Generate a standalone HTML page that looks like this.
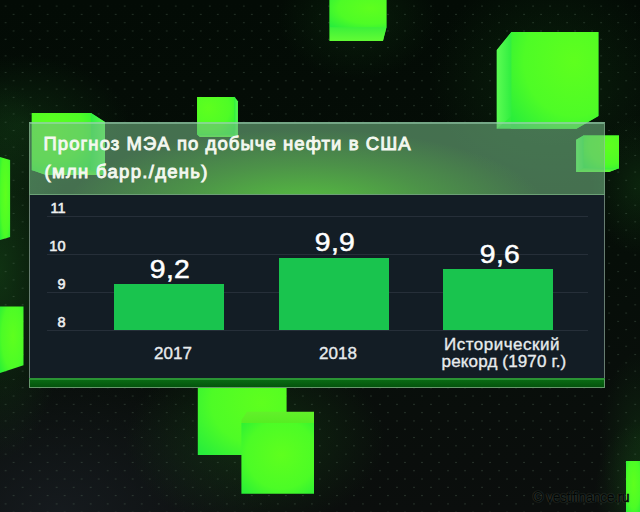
<!DOCTYPE html>
<html><head><meta charset="utf-8">
<style>
*{margin:0;padding:0;box-sizing:border-box}
html,body{width:640px;height:512px;overflow:hidden;background:#060b08}
body{position:relative;font-family:"Liberation Sans",sans-serif}
#bg{position:absolute;left:0;top:0;width:640px;height:512px;
background:
radial-gradient(ellipse 70px 190px at 0px 270px, rgba(25,85,28,0.5), rgba(0,0,0,0) 100%),
radial-gradient(ellipse 110px 70px at 20px 125px, rgba(20,70,25,0.4), rgba(0,0,0,0) 100%),
radial-gradient(ellipse 45px 70px at 640px 490px, rgba(30,110,30,0.28), rgba(0,0,0,0) 100%),
radial-gradient(ellipse 50px 70px at 640px 185px, rgba(20,70,22,0.4), rgba(0,0,0,0) 100%),
radial-gradient(ellipse 40px 90px at 640px 440px, rgba(20,70,22,0.35), rgba(0,0,0,0) 100%),
radial-gradient(ellipse 120px 110px at 550px 80px, rgba(20,70,22,0.35), rgba(0,0,0,0) 100%),
radial-gradient(ellipse 130px 90px at 255px 440px, rgba(25,85,25,0.4), rgba(0,0,0,0) 100%),
radial-gradient(ellipse 80px 60px at 358px 20px, rgba(20,70,22,0.3), rgba(0,0,0,0) 100%),
radial-gradient(ellipse 210px 140px at 60px 512px, rgba(22,27,31,0.95), rgba(0,0,0,0) 100%),
linear-gradient(#030b05 0%,#060e08 50%,#0b0e0d 100%);
}
#dots{position:absolute;left:0;top:0;width:640px;height:512px;
background-image:
radial-gradient(circle at 50% 50%, rgba(105,130,110,0.3) 0.7px, rgba(0,0,0,0) 1.1px),
radial-gradient(circle at 50% 50%, rgba(105,130,110,0.3) 0.7px, rgba(0,0,0,0) 1.1px);
background-size:17.03px 16.6px,17.03px 16.6px;
background-position:-2.9px -2.2px, 5.1px 6.1px;
clip-path:polygon(evenodd,0 0,640px 0,640px 512px,0 512px,0 0,29px 122px,604px 122px,604px 388px,29px 388px,29px 122px);
}
svg.cubes{position:absolute;left:0;top:0;width:640px;height:512px}
#header{position:absolute;left:29px;top:121.5px;width:575.5px;height:73.5px;
background:
radial-gradient(ellipse 240px 80px at 275px 85px, rgba(90,210,60,0.85), rgba(90,210,60,0.35) 55%, rgba(90,210,60,0) 100%),
rgba(116,184,132,0.58);
background-repeat:no-repeat;border:1px solid rgba(170,205,180,0.4);border-top:2px solid rgba(165,220,190,0.5);border-bottom:1.5px solid rgba(140,200,150,0.55)}
#chart{position:absolute;left:29px;top:195px;width:575.5px;height:183px;background:#131d25;
border-left:1px solid rgba(160,190,165,0.6);border-right:1px solid rgba(160,190,165,0.6)}
#strip{position:absolute;left:29px;top:377.5px;width:575.5px;height:10.5px;background:linear-gradient(#0a6a14,#03540c) no-repeat;background-color:#03540c;
border:1.5px solid rgba(120,165,125,0.85);border-top:2.5px solid #2a9434}
.t{position:absolute;color:#f2f6f0;white-space:nowrap;line-height:1}
.title{font-size:18.5px;letter-spacing:1.06px;color:#f4f8f0;-webkit-text-stroke:0.9px #f4f8f0}
.gl{position:absolute;left:46.5px;width:541.5px;height:1px;background:#262f39}
.yl{position:absolute;font-size:14.5px;color:#eef0f0;-webkit-text-stroke:0.55px #eef0f0;width:40px;text-align:right;left:25.5px;line-height:1}
.bar{position:absolute;background:#19c44e}
.val{position:absolute;font-size:26px;letter-spacing:0.3px;transform:scaleX(1.09);color:#fff;text-align:center;width:120px;line-height:1;-webkit-text-stroke:0.5px #fff}
.lab{position:absolute;font-size:17px;color:#e8ecee;text-align:center;width:160px;line-height:1;-webkit-text-stroke:0.35px #e8ecee}
</style></head><body>
<div id="bg"></div>
<div id="dots"></div>
<svg class="cubes" viewBox="0 0 640 512">
<defs>
<radialGradient id="fUR" cx="0.72" cy="0.3" r="0.95"><stop offset="0" stop-color="#5eff1e"/><stop offset="0.6" stop-color="#4efc26"/><stop offset="1" stop-color="#28ed3c"/></radialGradient>
<radialGradient id="fUL" cx="0.3" cy="0.3" r="0.95"><stop offset="0" stop-color="#5eff1e"/><stop offset="0.6" stop-color="#4efc26"/><stop offset="1" stop-color="#28ed3c"/></radialGradient>
<radialGradient id="fDR" cx="0.7" cy="0.7" r="0.95"><stop offset="0" stop-color="#5eff1e"/><stop offset="0.6" stop-color="#4efc26"/><stop offset="1" stop-color="#28ed3c"/></radialGradient>
<radialGradient id="fC" cx="0.55" cy="0.45" r="0.8"><stop offset="0" stop-color="#5eff1e"/><stop offset="0.6" stop-color="#4cfc26"/><stop offset="1" stop-color="#22ec3a"/></radialGradient>
<linearGradient id="sL" x1="0" y1="0" x2="1" y2="0"><stop offset="0" stop-color="#5cfc52"/><stop offset="1" stop-color="#30ee40"/></linearGradient>
<linearGradient id="sR" x1="1" y1="0" x2="0" y2="0"><stop offset="0" stop-color="#5cfc52"/><stop offset="1" stop-color="#30ee40"/></linearGradient>
<linearGradient id="sB" x1="0" y1="1" x2="0" y2="0"><stop offset="0" stop-color="#62fc34"/><stop offset="1" stop-color="#3cf03a"/></linearGradient>
<linearGradient id="sT" x1="0" y1="0" x2="0" y2="1"><stop offset="0" stop-color="#62f02a"/><stop offset="1" stop-color="#56ee22"/></linearGradient>
</defs>
<polygon points="329.6,0.0 386.4,0.0 386.4,27.4 382.9,41.1 329.6,41.1" fill="#3ef03a"/>
<polygon points="329.6,0.0 386.4,0.0 386.4,27.6 329.6,27.6" fill="url(#fUR)"/>
<polygon points="329.6,27.4 386.4,27.4 382.9,41.1 329.6,41.1" fill="url(#sB)"/>
<polygon points="511.4,32.0 598.4,32.0 598.4,116.0 576.5,128.8 496.8,128.8 496.8,50.0" fill="#30ee3c"/>
<polygon points="511.0,32.0 598.4,32.0 598.4,116.0 576.5,128.8 511.0,128.8" fill="url(#fUR)"/>
<polygon points="496.8,50.0 511.4,32.0 511.4,116.0 496.8,128.8" fill="url(#sL)"/>
<polygon points="583.5,135.4 619.0,135.4 619.0,168.2 609.0,172.0 576.2,172.0 576.2,139.8" fill="#30ee3c"/>
<polygon points="583.2,135.4 619.0,135.4 619.0,168.4 583.2,168.4" fill="url(#fUR)"/>
<polygon points="576.2,139.8 583.5,135.4 583.5,168.2 576.2,172.0" fill="url(#sL)"/>
<polygon points="583.5,168.2 619.0,168.2 609.0,172.0 576.2,172.0" fill="url(#sB)"/>
<polygon points="197.1,96.9 234.4,96.9 237.8,101.2 237.8,136.9 200.0,136.9 197.1,134.4" fill="#30ee3c"/>
<polygon points="197.1,96.9 234.7,96.9 234.7,134.6 197.1,134.6" fill="url(#fUL)"/>
<polygon points="234.4,96.9 237.8,101.2 237.8,136.9 234.4,134.4" fill="url(#sR)"/>
<polygon points="197.1,134.4 234.4,134.4 237.8,136.9 200.0,136.9" fill="url(#sB)"/>
<polygon points="31.8,113.1 91.0,113.1 105.0,122.0 105.0,175.0 46.0,175.0 31.8,170.0" fill="#30ee3c"/>
<polygon points="31.8,113.1 91.0,113.1 91.0,170.3 31.8,170.3" fill="url(#fUL)"/>
<polygon points="91.0,113.1 105.0,122.0 105.0,175.0 91.0,170.0" fill="url(#sR)"/>
<polygon points="31.8,170.0 90.7,170.0 105.0,175.0 46.0,175.0" fill="url(#sB)"/>
<polygon points="0.0,157.0 10.1,160.0 10.1,237.0 0.0,240.0" fill="url(#fC)"/>
<polygon points="0.0,306.6 23.5,306.6 23.5,365.2 0.0,373.0" fill="url(#fC)"/>
<polygon points="197.8,380.0 286.6,380.0 286.6,455.0 197.8,455.0" fill="url(#fUR)"/>
<polygon points="247.0,411.8 314.0,411.8 314.0,423.2 241.4,423.2 241.4,420.0" fill="url(#sT)"/>
<polygon points="241.4,423.0 314.0,423.0 314.0,493.8 241.4,493.8" fill="url(#fC)"/>
<polygon points="626.0,461.0 640.0,461.0 640.0,512.0 626.0,512.0" fill="url(#fC)"/>
</svg>

<div id="header"></div>
<div id="chart"></div>
<div id="strip"></div>

<div class="t title" style="left:43.5px;top:135px">Прогноз МЭА по добыче нефти в США</div>
<div class="t title" style="left:44.5px;top:162.5px;letter-spacing:1.3px">(млн барр./день)</div>

<div class="gl" style="top:215.5px"></div>
<div class="gl" style="top:253.5px"></div>
<div class="gl" style="top:291.5px"></div>
<div class="gl" style="top:329.5px"></div>

<div class="yl" style="top:201px">11</div>
<div class="yl" style="top:239px">10</div>
<div class="yl" style="top:277px">9</div>
<div class="yl" style="top:315px">8</div>

<div class="bar" style="left:114px;top:284px;width:110px;height:46px"></div>
<div class="bar" style="left:279px;top:258px;width:110px;height:72px"></div>
<div class="bar" style="left:443px;top:269px;width:110px;height:61px"></div>

<div class="val" style="left:110px;top:256px">9,2</div>
<div class="val" style="left:275px;top:229px">9,9</div>
<div class="val" style="left:440px;top:241px">9,6</div>

<div class="lab" style="left:93px;top:344.5px">2017</div>
<div class="lab" style="left:258px;top:344.5px">2018</div>
<div class="lab" style="left:422px;top:336px;letter-spacing:0.5px">Исторический</div>
<div class="lab" style="left:424px;top:352.5px;letter-spacing:0.15px">рекорд (1970 г.)</div>

<div class="t" style="left:533px;top:490px;font-size:14px;letter-spacing:-0.5px;color:#020604;-webkit-text-stroke:0.5px #020604;text-shadow:0 0 1px rgba(150,170,150,0.7),0 0 2px rgba(120,140,120,0.4)">© vestifinance.ru</div>
</body></html>
